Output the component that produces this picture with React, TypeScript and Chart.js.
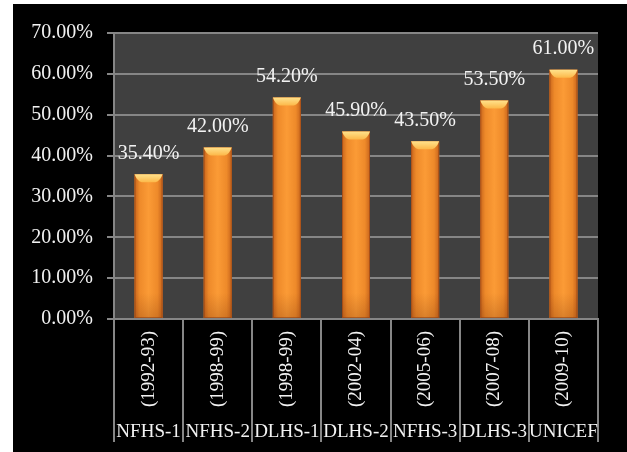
import React, { useEffect, useRef } from "react";
import { Chart, registerables } from "chart.js";

Chart.register(...registerables);

const categories = ["NFHS-1", "NFHS-2", "DLHS-1", "DLHS-2", "NFHS-3", "DLHS-3", "UNICEF"];
const periods = ["(1992-93)", "(1998-99)", "(1998-99)", "(2002-04)", "(2005-06)", "(2007-08)", "(2009-10)"];
const values = [35.4, 42.0, 54.2, 45.9, 43.5, 53.5, 61.0];
const yMin = 0;
const yMax = 70;
const yStep = 10;

const FONT = "'Liberation Serif', 'Times New Roman', serif";
const TEXT = "#f2f2f2";
const GRID = "#868686";

const bgPlugin = {
  id: "bgPlugin",
  beforeDraw(chart: any) {
    const { ctx, chartArea } = chart;
    ctx.save();
    ctx.fillStyle = "#000000";
    ctx.fillRect(0, 0, chart.width, chart.height);
    ctx.fillStyle = "#404040";
    ctx.fillRect(chartArea.left, chartArea.top, chartArea.right - chartArea.left, chartArea.bottom - chartArea.top);
    ctx.restore();
  },
};

const barStylePlugin = {
  id: "barStyle",
  afterDatasetsDraw(chart: any) {
    const { ctx } = chart;
    const meta = chart.getDatasetMeta(0);
    meta.data.forEach((el: any, i: number) => {
      const { x, y, base, width } = el.getProps(["x", "y", "base", "width"], true);
      const left = x - width / 2;
      const right = x + width / 2;
      ctx.save();
      const g = ctx.createLinearGradient(left, 0, right, 0);
      g.addColorStop(0, "#c8651c");
      g.addColorStop(0.18, "#ee8a2a");
      g.addColorStop(0.5, "#fb9b36");
      g.addColorStop(0.82, "#ee8a2a");
      g.addColorStop(1, "#c8651c");
      ctx.fillStyle = g;
      ctx.fillRect(left, y, width, base - y);
      // bottom shading
      const gb = ctx.createLinearGradient(0, base - 25, 0, base);
      gb.addColorStop(0, "rgba(120,50,10,0)");
      gb.addColorStop(1, "rgba(120,50,10,0.25)");
      ctx.fillStyle = gb;
      ctx.fillRect(left, base - 25, width, 25);
      // edge outline
      ctx.strokeStyle = "rgba(140,60,20,0.55)";
      ctx.lineWidth = 1;
      ctx.strokeRect(left + 0.5, y + 0.5, width - 1, base - y - 1);
      // top bevel
      const bw = 7;
      const bh = 8;
      const gt = ctx.createLinearGradient(0, y, 0, y + bh);
      gt.addColorStop(0, "#ffe28c");
      gt.addColorStop(1, "#fcb849");
      ctx.fillStyle = gt;
      ctx.beginPath();
      ctx.moveTo(left, y);
      ctx.lineTo(right, y);
      ctx.quadraticCurveTo(right - bw * 0.3, y + bh * 0.8, right - bw, y + bh);
      ctx.lineTo(left + bw, y + bh);
      ctx.quadraticCurveTo(left + bw * 0.3, y + bh * 0.8, left, y);
      ctx.closePath();
      ctx.fill();
      ctx.restore();

      // value label
      ctx.save();
      ctx.fillStyle = TEXT;
      ctx.font = `20px ${FONT}`;
      ctx.textAlign = "center";
      ctx.textBaseline = "middle";
      ctx.fillText(values[i].toFixed(2) + "%", x, y - 21);
      ctx.restore();
    });
  },
};

const xAxisPlugin = {
  id: "xAxisLabels",
  afterDraw(chart: any) {
    const { ctx, chartArea } = chart;
    const xs = chart.scales.x;
    const n = categories.length;
    const w = (xs.right - xs.left) / n;
    const top = chartArea.bottom;
    const bottom = top + 123;
    ctx.save();
    ctx.strokeStyle = GRID;
    ctx.lineWidth = 2;
    for (let i = 0; i <= n; i++) {
      const px = Math.round(xs.left + i * w);
      ctx.beginPath();
      ctx.moveTo(px, top);
      ctx.lineTo(px, bottom);
      ctx.stroke();
    }
    ctx.fillStyle = TEXT;
    ctx.font = `19px ${FONT}`;
    for (let i = 0; i < n; i++) {
      const cx = xs.getPixelForValue(i);
      ctx.save();
      ctx.translate(cx, top + 50);
      ctx.rotate(-Math.PI / 2);
      ctx.textAlign = "center";
      ctx.textBaseline = "middle";
      ctx.fillText(periods[i], 0, 0);
      ctx.restore();
      ctx.textAlign = "center";
      ctx.textBaseline = "alphabetic";
      ctx.fillText(categories[i], cx, top + 118);
    }
    ctx.restore();
  },
};

export default function App() {
  const ref = useRef<HTMLCanvasElement>(null);
  useEffect(() => {
    if (!ref.current) return;
    const chart = new Chart(ref.current, {
      type: "bar",
      data: {
        labels: categories,
        datasets: [
          {
            data: values,
            backgroundColor: "#f28c2c",
            barPercentage: 0.405,
            categoryPercentage: 1,
          },
        ],
      },
      options: {
        responsive: false,
        animation: false,
        layout: { padding: { top: 29, right: 29, left: 0, bottom: 0 } },
        plugins: { legend: { display: false }, tooltip: { enabled: false } },
        scales: {
          x: {
            ticks: { display: false },
            grid: { display: false },
            border: { display: true, color: GRID, width: 2 },
            afterFit: (s: any) => {
              s.height = 133;
            },
          },
          y: {
            min: yMin,
            max: yMax,
            ticks: {
              stepSize: yStep,
              color: TEXT,
              font: { family: FONT, size: 20 },
              padding: 14,
              callback: (v: any) => Number(v).toFixed(2) + "%",
            },
            grid: { color: GRID, lineWidth: 2, tickLength: 7, drawTicks: true },
            border: { display: true, color: GRID, width: 2 },
            afterFit: (s: any) => {
              s.width = 101;
            },
          },
        },
      },
      plugins: [bgPlugin, barStylePlugin, xAxisPlugin],
    });
    return () => chart.destroy();
  }, []);
  return (
    <div style={{ position: "absolute", left: 13, top: 4, width: 614, height: 448, background: "#000" }}>
      <canvas ref={ref} width={614} height={448} style={{ display: "block" }} />
    </div>
  );
}
